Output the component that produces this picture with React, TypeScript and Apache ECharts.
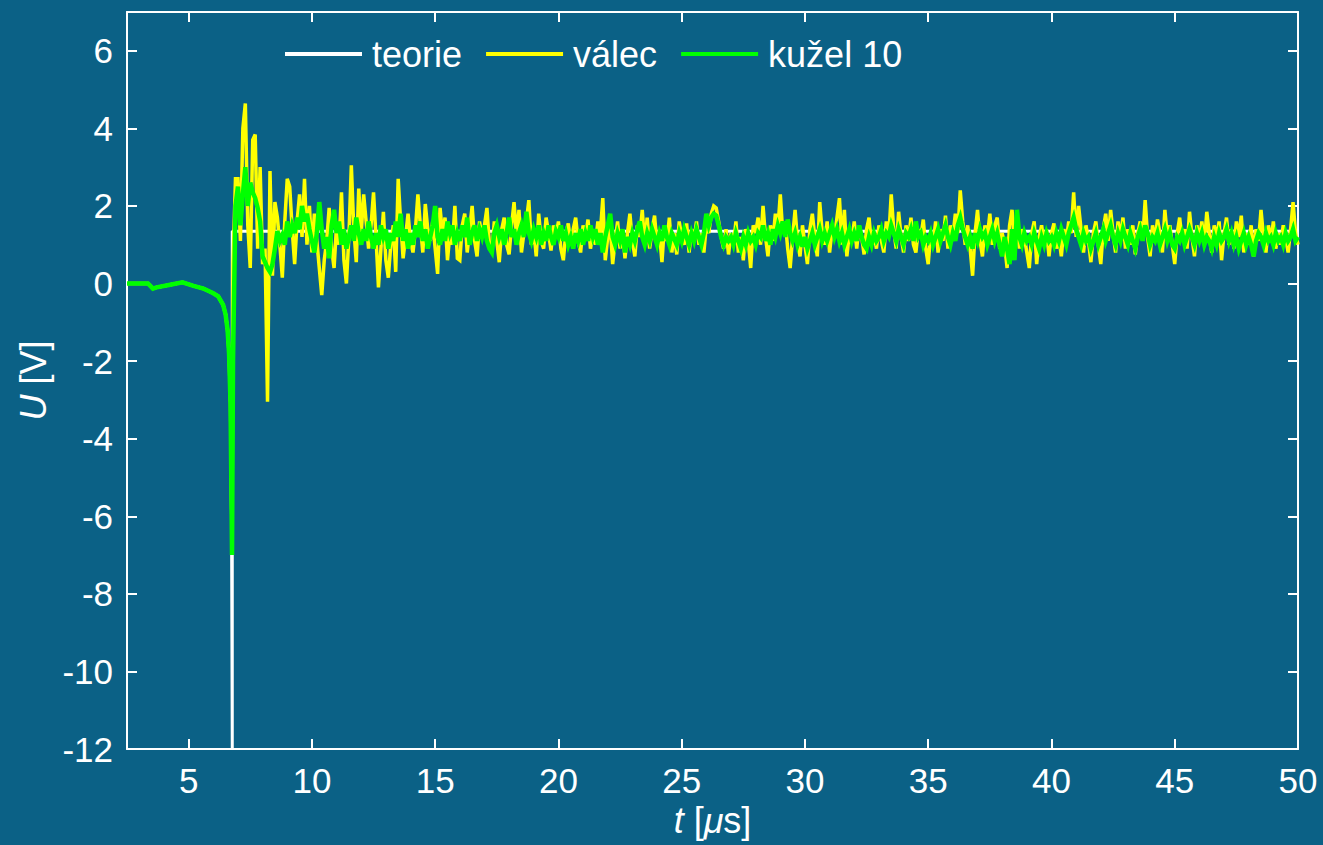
import React, { useEffect, useRef } from "react";
import * as echarts from "echarts";

// Oscilloscope record: theoretical response vs. measured probes
const SERIES_NAMES = ["teorie", "válec", "kužel 10"];
const X_TICKS = [5, 10, 15, 20, 25, 30, 35, 40, 45, 50];
const Y_TICKS = [-12, -10, -8, -6, -4, -2, 0, 2, 4, 6];

// slow part before the pulse (µs / V)
const PRE_T = [2.5, 3.35, 3.55, 3.7, 4.2, 4.75, 5.2, 5.6, 6.0, 6.2, 6.4, 6.5, 6.58, 6.64, 6.7, 6.73, 6.76, 6.8, 6.9];
const PRE_VALEC = [0, 0, -0.13, -0.1, -0.04, 0.03, -0.06, -0.13, -0.25, -0.33, -0.55, -0.8, -1.2, -1.8, -3.1, -5.0, -6.6, 0.5, 2.7];
const PRE_KUZEL = [0, 0, -0.13, -0.1, -0.04, 0.03, -0.06, -0.13, -0.25, -0.33, -0.55, -0.8, -1.2, -1.8, -3.1, -5.0, -7.0, -2.0, 2.0];

// theoretical curve
const TEORIE_T = [2.5, 3.35, 3.55, 3.7, 4.2, 4.75, 5.2, 5.6, 6.0, 6.2, 6.4, 6.5, 6.58, 6.64, 6.7, 6.74, 6.77, 6.77, 50];
const TEORIE_U = [0, 0, -0.13, -0.1, -0.04, 0.03, -0.06, -0.13, -0.25, -0.33, -0.55, -0.8, -1.2, -1.8, -3.1, -6.0, -12, 1.35, 1.35];

// sampled record from 7.0 µs, 0.1 µs step
const T0 = 7.0;
const DT = 0.1;

const VALEC = [
  2.7, 1.1, 4.0, 4.64, 1.5, 0.4, 3.7, 3.84, 0.9, 3.0, // 7
  0.5, 0.9, -3.05, 2.9, 0.2, 2.1, 1.7, 1.0, 0.15, 1.6, // 8
  2.7, 2.5, 1.4, 0.5, 1.6, 2.3, 1.2, 2.7, 1.0, 2.0, // 9
  0.8, 1.8, 1.1, 0.4, -0.3, 0.6, 1.1, 1.95, 0.9, 0.4, // 10
  1.5, 1.0, 2.35, 0.6, 0.0, 1.2, 3.05, 1.4, 0.55, 2.45, // 11
  1.3, 2.3, 1.6, 0.9, 1.5, 2.35, 1.2, -0.1, 0.9, 1.85, // 12
  0.6, 0.15, 1.0, 1.5, 0.3, 2.7, 1.6, 0.65, 1.2, 1.8, // 13
  1.1, 0.8, 1.4, 2.3, 1.5, 0.8, 2.05, 1.4, 1.1, 1.6, // 14
  0.9, 0.25, 1.95, 1.25, 1.7, 0.6, 1.3, 1.0, 2.0, 0.65, // 15
  0.6, 1.5, 1.8, 0.8, 1.4, 2.0, 1.1, 0.7, 1.6, 1.2, // 16
  1.5, 1.95, 1.0, 0.8, 1.6, 1.1, 0.55, 1.4, 1.7, 1.0, // 17
  0.75, 1.5, 2.1, 1.2, 1.9, 0.8, 1.3, 1.6, 2.15, 1.0, // 18
  1.4, 0.7, 1.8, 1.1, 0.9, 1.7, 1.3, 0.85, 1.5, 1.2, // 19
  1.6, 0.9, 0.6, 1.3, 1.55, 1.0, 1.4, 1.7, 1.1, 0.8, // 20
  1.5, 1.2, 1.65, 0.9, 1.3, 1.0, 1.6, 1.3, 2.2, 0.6, // 21
  1.2, 1.5, 0.5, 1.1, 1.6, 0.9, 1.4, 0.65, 1.3, 1.8, // 22
  1.1, 0.7, 1.5, 1.2, 1.9, 1.0, 1.7, 0.9, 1.4, 1.75, // 23
  1.0, 1.3, 0.55, 1.5, 1.1, 1.7, 0.8, 1.3, 0.75, 1.6, // 24
  1.2, 1.0, 1.55, 0.8, 1.4, 1.1, 1.6, 1.0, 1.3, 0.8, // 25
  1.5, 1.3, 1.8, 2.0, 1.95, 1.6, 1.2, 0.9, 1.4, 0.75, // 26
  1.3, 1.0, 1.6, 0.8, 1.2, 0.6, 1.4, 1.1, 0.4, 1.5, // 27
  1.3, 1.7, 1.0, 2.0, 1.2, 0.7, 1.5, 1.1, 1.8, 1.4, // 28
  2.3, 1.3, 1.6, 0.9, 0.4, 1.2, 1.9, 1.1, 0.7, 1.5, // 29
  1.0, 0.5, 1.4, 1.8, 1.2, 0.7, 2.1, 1.3, 1.0, 1.6, // 30
  0.8, 1.4, 1.2, 1.7, 2.2, 1.0, 1.9, 0.7, 1.3, 1.1, // 31
  1.6, 0.9, 1.5, 1.2, 0.75, 1.4, 1.7, 1.0, 1.3, 0.9, // 32
  1.5, 1.1, 0.8, 1.6, 1.2, 2.3, 1.4, 0.9, 1.85, 1.2, // 33
  0.8, 1.5, 1.1, 1.7, 1.0, 0.8, 1.4, 1.2, 1.65, 0.9, // 34
  0.5, 1.3, 1.0, 1.6, 0.8, 1.4, 1.1, 1.75, 0.9, 1.5, // 35
  1.2, 1.8, 1.3, 2.4, 1.6, 1.0, 1.5, 0.9, 0.2, 1.3, // 36
  1.9, 1.1, 0.7, 1.5, 1.2, 1.8, 1.0, 1.5, 1.7, 0.9, // 37
  1.3, 1.0, 0.4, 1.5, 1.9, 1.1, 1.6, 0.9, 1.4, 1.2, // 38
  0.8, 0.4, 1.3, 1.6, 0.5, 1.2, 1.5, 1.0, 1.4, 0.7, // 39
  1.3, 1.55, 0.9, 1.2, 0.7, 1.4, 1.1, 1.6, 1.3, 2.35, // 40
  1.2, 2.0, 1.4, 0.8, 1.5, 1.1, 0.55, 1.3, 1.6, 1.0, // 41
  0.5, 1.4, 1.8, 1.1, 1.9, 1.3, 0.8, 1.6, 1.2, 1.7, // 42
  0.9, 1.4, 1.0, 1.5, 0.75, 1.3, 1.6, 1.1, 2.15, 1.2, // 43
  0.7, 1.5, 1.1, 1.65, 1.3, 0.8, 1.9, 1.2, 1.5, 1.0, // 44
  0.5, 1.3, 1.7, 1.1, 1.4, 0.9, 1.85, 1.2, 0.7, 1.5, // 45
  1.1, 1.6, 1.0, 1.85, 1.3, 0.8, 1.5, 1.2, 1.6, 0.6, // 46
  1.3, 1.7, 1.0, 1.4, 0.9, 1.6, 1.2, 1.75, 0.8, 1.3, // 47
  1.0, 1.5, 0.7, 1.4, 1.1, 1.9, 1.2, 0.8, 1.5, 1.1, // 48
  1.6, 0.9, 1.3, 1.0, 1.5, 1.2, 0.8, 1.4, 2.1, 1.3, // 49
  1.0, // 50
];

const KUZEL = [
  2.5, 1.5, 2.3, 3.0, 2.0, 2.6, 2.35, 2.2, 1.95, 1.6, // 7
  0.7, 0.55, 0.4, 0.3, 0.5, 0.9, 1.35, 1.1, 1.25, 1.0, // 8
  1.6, 1.2, 1.5, 1.3, 1.7, 1.4, 2.0, 1.6, 1.8, 1.4, // 9
  1.1, 0.8, 1.3, 2.1, 1.4, 0.9, 1.2, 0.65, 1.5, 1.9, // 10
  1.3, 1.6, 1.0, 1.4, 0.9, 1.2, 1.5, 1.1, 1.7, 1.3, // 11
  1.0, 1.4, 1.1, 1.6, 1.2, 0.9, 1.3, 1.0, 1.5, 1.2, // 12
  1.4, 0.9, 1.3, 1.1, 1.6, 1.2, 1.8, 1.1, 1.4, 0.9, // 13
  1.3, 1.0, 1.5, 1.2, 1.6, 1.1, 1.4, 0.9, 1.2, 1.5, // 14
  2.0, 1.2, 1.0, 1.4, 1.1, 1.6, 1.3, 1.5, 1.0, 1.3, // 15
  1.1, 1.5, 1.2, 1.7, 1.0, 1.3, 1.5, 1.1, 1.4, 1.2, // 16
  1.5, 1.1, 0.9, 0.8, 1.3, 1.5, 1.2, 1.4, 1.0, 1.3, // 17
  1.7, 1.2, 1.4, 1.0, 1.3, 1.5, 1.2, 1.85, 1.3, 1.1, // 18
  1.4, 1.2, 1.5, 1.0, 1.3, 1.1, 1.5, 1.2, 1.0, 1.35, // 19
  1.2, 1.5, 1.1, 1.3, 1.0, 1.2, 0.9, 1.3, 1.1, 1.4, // 20
  1.0, 1.3, 1.1, 1.5, 1.2, 1.4, 1.0, 1.3, 0.8, 1.2, // 21
  1.5, 1.8, 1.2, 1.0, 1.3, 1.1, 1.4, 0.8, 1.2, 1.0, // 22
  1.3, 1.1, 1.4, 1.6, 1.2, 1.0, 1.3, 1.1, 1.4, 1.2, // 23
  1.0, 1.3, 1.1, 1.5, 1.2, 1.0, 1.3, 1.15, 1.0, 1.3, // 24
  1.1, 1.4, 1.2, 1.0, 1.3, 1.1, 1.4, 1.2, 1.0, 1.3, // 25
  1.8, 1.5, 1.7, 1.8, 1.75, 1.5, 1.2, 1.0, 1.2, 1.1, // 26
  1.2, 1.0, 1.3, 1.1, 0.9, 1.2, 1.0, 1.3, 1.1, 1.2, // 27
  1.0, 1.3, 1.2, 1.5, 1.1, 1.3, 1.0, 1.4, 1.2, 1.5, // 28
  1.3, 1.6, 1.2, 1.65, 1.3, 1.1, 1.3, 1.0, 1.2, 0.95, // 29
  1.2, 0.9, 1.1, 1.3, 1.0, 1.2, 1.4, 1.1, 1.3, 1.1, // 30
  1.3, 1.5, 1.2, 1.4, 1.1, 1.3, 1.0, 1.2, 1.4, 1.1, // 31
  1.3, 1.1, 1.5, 1.2, 1.0, 0.9, 1.2, 1.0, 1.3, 1.1, // 32
  1.2, 1.4, 1.1, 1.3, 1.2, 1.5, 1.3, 1.1, 1.4, 1.2, // 33
  1.0, 1.3, 1.2, 1.4, 1.1, 1.6, 1.2, 1.3, 1.0, 1.2, // 34
  1.1, 1.3, 1.0, 1.2, 1.4, 1.1, 1.3, 1.5, 1.2, 1.0, // 35
  1.3, 1.1, 1.5, 1.7, 1.4, 1.2, 1.0, 1.2, 0.9, 1.3, // 36
  1.1, 1.4, 1.2, 1.3, 1.0, 1.2, 1.4, 1.1, 1.3, 1.0, // 37
  0.7, 1.2, 0.9, 0.5, 1.4, 0.6, 1.9, 1.2, 1.0, 1.3, // 38
  1.1, 1.2, 1.0, 1.3, 1.1, 0.9, 1.2, 1.0, 1.3, 1.1, // 39
  1.2, 1.0, 1.3, 1.1, 1.4, 1.2, 1.0, 1.3, 1.5, 1.7, // 40
  1.4, 1.2, 1.0, 1.3, 1.1, 1.2, 0.9, 1.1, 1.3, 1.0, // 41
  1.2, 1.4, 1.1, 1.3, 1.5, 1.2, 1.0, 1.3, 1.1, 1.4, // 42
  1.2, 1.0, 1.3, 1.1, 0.9, 1.2, 1.4, 1.1, 1.5, 1.3, // 43
  1.0, 1.2, 1.1, 1.3, 1.0, 1.2, 1.4, 1.1, 1.3, 1.0, // 44
  0.9, 1.2, 1.1, 1.3, 1.0, 1.2, 1.4, 1.2, 1.0, 1.3, // 45
  1.1, 1.3, 1.0, 1.2, 1.1, 0.9, 1.2, 1.0, 1.3, 1.1, // 46
  1.2, 1.4, 1.1, 1.3, 1.0, 1.2, 0.9, 1.1, 1.3, 1.0, // 47
  1.2, 1.0, 0.7, 1.1, 1.3, 1.2, 1.0, 1.3, 1.1, 1.2, // 48
  1.0, 1.3, 1.1, 1.2, 1.0, 1.3, 1.1, 1.2, 1.4, 1.1, // 49
  1.2, // 50
];

const FONT = '"Liberation Sans", Arial, Helvetica, sans-serif';
const BG = "#0b6186";
const WHITE = "#ffffff";
const YELLOW = "#ffff00";
const GREEN = "#00ff00";

function record(preT: number[], preU: number[], sampled: number[]): number[][] {
  const head = preT.map((t, i) => [t, preU[i]]);
  const tail = sampled.map((u, i) => [Math.round((T0 + i * DT) * 100) / 100, u]);
  return head.concat(tail);
}

export default function App() {
  const ref = useRef<HTMLDivElement | null>(null);

  useEffect(() => {
    if (!ref.current) return;
    const chart = echarts.init(ref.current, undefined, { renderer: "svg" });

    const axisLine = { show: true, onZero: false, lineStyle: { color: WHITE, width: 2 } };
    const tickX = { show: true, inside: true, length: 10, customValues: X_TICKS, lineStyle: { color: WHITE, width: 2 } };
    const tickY = { show: true, inside: true, length: 10, customValues: Y_TICKS, lineStyle: { color: WHITE, width: 2 } };
    const labelStyle = { color: WHITE, fontSize: 35, fontFamily: FONT };

    chart.setOption({
      animation: false,
      backgroundColor: BG,
      textStyle: { fontFamily: FONT },
      grid: { left: 127, top: 12, right: 25, bottom: 96 },
      legend: {
        left: 285,
        top: 36,
        padding: 0,
        itemGap: 24,
        itemWidth: 77,
        itemHeight: 4,
        icon: "rect",
        data: SERIES_NAMES,
        textStyle: { color: WHITE, fontSize: 36, fontFamily: FONT, padding: [0, 0, 0, 5] },
      },
      xAxis: [
        {
          type: "value",
          min: 2.5,
          max: 50,
          position: "bottom",
          axisLine,
          axisTick: tickX,
          splitLine: { show: false },
          axisLabel: { ...labelStyle, margin: 14, customValues: X_TICKS },
          name: "{i|t} [{i|μ}s]",
          nameLocation: "middle",
          nameGap: 52,
          nameTextStyle: {
            ...labelStyle,
            fontSize: 36,
            rich: { i: { fontStyle: "italic", fontSize: 36, color: WHITE, fontFamily: FONT } },
          },
        },
        {
          type: "value",
          min: 2.5,
          max: 50,
          position: "top",
          axisLine,
          axisTick: tickX,
          splitLine: { show: false },
          axisLabel: { show: false },
        },
      ],
      yAxis: [
        {
          type: "value",
          min: -12,
          max: 7,
          position: "left",
          axisLine,
          axisTick: tickY,
          splitLine: { show: false },
          axisLabel: { ...labelStyle, margin: 14, customValues: Y_TICKS },
          name: "{i|U} [V]",
          nameLocation: "middle",
          nameGap: 74,
          nameRotate: 90,
          nameTextStyle: {
            ...labelStyle,
            fontSize: 36,
            rich: { i: { fontStyle: "italic", fontSize: 36, color: WHITE, fontFamily: FONT } },
          },
        },
        {
          type: "value",
          min: -12,
          max: 7,
          position: "right",
          axisLine,
          axisTick: tickY,
          splitLine: { show: false },
          axisLabel: { show: false },
        },
      ],
      series: [
        {
          name: SERIES_NAMES[0],
          type: "line",
          showSymbol: false,
          color: WHITE,
          lineStyle: { color: WHITE, width: 3 },
          data: TEORIE_T.map((t, i) => [t, TEORIE_U[i]]),
        },
        {
          name: SERIES_NAMES[1],
          type: "line",
          showSymbol: false,
          color: YELLOW,
          lineStyle: { color: YELLOW, width: 3.5, join: "miter" },
          data: record(PRE_T, PRE_VALEC, VALEC),
        },
        {
          name: SERIES_NAMES[2],
          type: "line",
          showSymbol: false,
          color: GREEN,
          lineStyle: { color: GREEN, width: 4.5, join: "miter" },
          data: record(PRE_T, PRE_KUZEL, KUZEL),
        },
      ],
    });

    return () => chart.dispose();
  }, []);

  return (
    <div
      ref={ref}
      style={{ position: "absolute", left: 0, top: 0, width: 1323, height: 845, background: BG }}
    />
  );
}
